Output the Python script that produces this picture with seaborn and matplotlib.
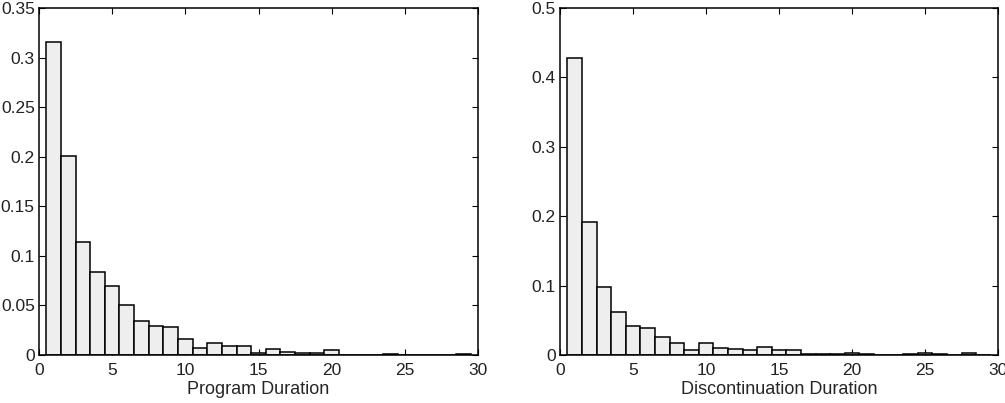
import matplotlib
matplotlib.use("Agg")
import matplotlib.pyplot as plt
import matplotlib.ticker as mticker
import seaborn as sns
import numpy as np
import pandas as pd

# bin centres (durations 1..29)
durations = list(range(1, 30))

program_freq = [0.3155, 0.201, 0.1137, 0.084, 0.0696, 0.0508, 0.034, 0.0296, 0.028, 0.0161,
                0.0067, 0.012, 0.0088, 0.0088, 0.0017, 0.0064, 0.0033, 0.0017, 0.0017, 0.0047,
                0.0, 0.0, 0.0, 0.0015, 0.0, 0.0, 0.0, 0.0, 0.0015]

discont_freq = [0.4275, 0.192, 0.0975, 0.0615, 0.0423, 0.039, 0.0264, 0.0178, 0.0075, 0.0178,
                0.0105, 0.0086, 0.0068, 0.012, 0.0072, 0.0072, 0.0015, 0.0008, 0.0008, 0.003,
                0.0008, 0.0005, 0.0005, 0.0008, 0.003, 0.0008, 0.0, 0.003, 0.0]

sns.set_style("white")
plt.rcParams["font.family"] = ["Liberation Sans", "DejaVu Sans"]
plt.rcParams["font.size"] = 12

fig = plt.figure(figsize=(10.05, 4.03), dpi=100)
ax1 = fig.add_axes([39 / 1005, 1 - 355 / 403, 439 / 1005, 347 / 403])
ax2 = fig.add_axes([560 / 1005, 1 - 355 / 403, 438 / 1005, 347 / 403])

df = pd.DataFrame({"d": durations, "prog": program_freq, "disc": discont_freq})


def panel(ax, col, ymax, ystep, xlabel):
    sns.histplot(data=df, x="d", weights=col, discrete=True, ax=ax,
                 color="#eeeeee", edgecolor="black", linewidth=1.1, alpha=1.0)
    ax.set_xlim(0, 30)
    ax.set_ylim(0, ymax)
    ax.set_xticks(np.arange(0, 31, 5))
    ax.set_yticks(np.arange(0, ymax + 1e-9, ystep))
    ax.yaxis.set_major_formatter(mticker.FuncFormatter(lambda v, p: f"{v:g}"))
    ax.set_xlabel(xlabel, fontsize=13, labelpad=2)
    ax.set_ylabel("")
    ax.tick_params(direction="in", length=4.5, width=0.8, top=True, right=True,
                   bottom=True, left=True, labelsize=12.5, pad=3, color="black",
                   labelcolor="#222222")
    ax.tick_params(axis="x", pad=6)
    for s in ax.spines.values():
        s.set_visible(True)
        s.set_color("black")
        s.set_linewidth(1.1)


panel(ax1, "prog", 0.35, 0.05, "Program Duration")
panel(ax2, "disc", 0.5, 0.1, "Discontinuation Duration")

fig.savefig("out.png", dpi=100, facecolor="white")
